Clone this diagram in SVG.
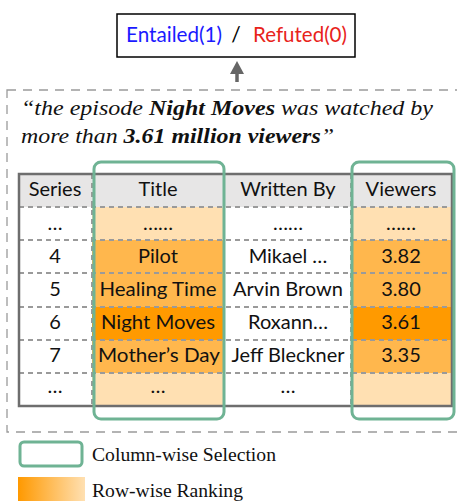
<svg xmlns="http://www.w3.org/2000/svg" width="457" height="501" viewBox="0 0 457 501">
<defs>
<style>
.sans{font-family:Lato,"Open Sans","Liberation Sans",sans-serif;font-size:20px;fill:#111;text-anchor:middle}
.serif{font-family:"Liberation Serif","DejaVu Serif",serif;fill:#111}
.dash{stroke:#9a9a9a;stroke-width:2;stroke-dasharray:5,4;fill:none}
.sel{fill:none;stroke:#6fb394;stroke-width:3}
.light{fill:#ffe0b2}
.mid{fill:#ffb74d}
.dark{fill:#ff9a00}
</style>
<linearGradient id="grad" x1="0" y1="0" x2="1" y2="0">
<stop offset="0" stop-color="#ff9900"/>
<stop offset="1" stop-color="#ffe0b2"/>
</linearGradient>
</defs>
<rect width="457" height="501" fill="#fff"/>

<g id="output">
<rect x="117" y="14" width="238" height="43" fill="#fff" stroke="#000" stroke-width="1.5"/>
<text x="126" y="42" style="font-family:Lato,'Open Sans','Liberation Sans',sans-serif;font-size:21px" fill="#1a1aff" textLength="96" lengthAdjust="spacingAndGlyphs">Entailed(1)</text>
<text x="236" y="42" style="font-family:Lato,'Open Sans','Liberation Sans',sans-serif;font-size:21px" fill="#000" text-anchor="middle">/</text>
<text x="253" y="42" style="font-family:Lato,'Open Sans','Liberation Sans',sans-serif;font-size:21px" fill="#e8231b" textLength="94" lengthAdjust="spacingAndGlyphs">Refuted(0)</text>
</g>

<g id="connectors">
<line x1="237" y1="82" x2="237" y2="72" stroke="#666" stroke-width="3.5"/>
<path d="M230,74 L244,74 L237,61 Z" fill="#666"/>
</g>

<g id="frame">
<rect x="7" y="90" width="470" height="342" fill="none" stroke="#9a9a9a" stroke-width="1.3" stroke-dasharray="9,7"/>
</g>

<g id="claim">
<text class="serif" font-size="22" font-style="italic" x="21" y="115" textLength="412" lengthAdjust="spacingAndGlyphs">“the episode <tspan font-weight="bold">Night Moves</tspan> was watched by</text>
<text class="serif" font-size="22" font-style="italic" x="21" y="143" textLength="313" lengthAdjust="spacingAndGlyphs">more than <tspan font-weight="bold">3.61 million viewers</tspan>”</text>
</g>

<g id="table">
<rect x="19" y="174" width="433" height="33" fill="#e7e6e6"/>
<rect x="19" y="207" width="433" height="199" fill="#fff"/>
<rect class="light" x="92" y="207" width="132" height="33"/>
<rect class="mid" x="92" y="240" width="132" height="67"/>
<rect class="dark" x="92" y="307" width="132" height="33"/>
<rect class="mid" x="92" y="340" width="132" height="33"/>
<rect class="light" x="92" y="373" width="132" height="33"/>
<rect class="light" x="351" y="207" width="101" height="33"/>
<rect class="mid" x="351" y="240" width="101" height="67"/>
<rect class="dark" x="351" y="307" width="101" height="33"/>
<rect class="mid" x="351" y="340" width="101" height="33"/>
<rect class="light" x="351" y="373" width="101" height="33"/>
<path class="dash" d="M19,207 H452 M19,240 H452 M19,273 H452 M19,307 H452 M19,340 H452 M19,373 H452 M92,174 V406 M224,174 V406 M351,174 V406"/>
<rect x="19" y="174" width="433" height="232" fill="none" stroke="#6e6e6e" stroke-width="2.5"/>

<text class="sans" x="55" y="196">Series</text>
<text class="sans" x="158" y="196">Title</text>
<text class="sans" x="288" y="196">Written By</text>
<text class="sans" x="401" y="196">Viewers</text>

<text class="sans" x="55" y="230">…</text>
<text class="sans" x="158" y="230">……</text>
<text class="sans" x="288" y="230">……</text>
<text class="sans" x="401" y="230">……</text>

<text class="sans" x="55" y="263">4</text>
<text class="sans" x="158" y="263">Pilot</text>
<text class="sans" x="288" y="263">Mikael …</text>
<text class="sans" x="401" y="263">3.82</text>

<text class="sans" x="55" y="296">5</text>
<text class="sans" x="158" y="296" textLength="117" lengthAdjust="spacingAndGlyphs">Healing Time</text>
<text class="sans" x="288" y="296" textLength="110" lengthAdjust="spacingAndGlyphs">Arvin Brown</text>
<text class="sans" x="401" y="296">3.80</text>

<text class="sans" x="55" y="329">6</text>
<text class="sans" x="158" y="329" textLength="114" lengthAdjust="spacingAndGlyphs">Night Moves</text>
<text class="sans" x="288" y="329">Roxann…</text>
<text class="sans" x="401" y="329">3.61</text>

<text class="sans" x="55" y="362">7</text>
<text class="sans" x="159" y="362" textLength="122" lengthAdjust="spacingAndGlyphs">Mother’s Day</text>
<text class="sans" x="288" y="362" textLength="113" lengthAdjust="spacingAndGlyphs">Jeff Bleckner</text>
<text class="sans" x="401" y="362">3.35</text>

<text class="sans" x="55" y="393">…</text>
<text class="sans" x="158" y="393">…</text>
<text class="sans" x="288" y="393">…</text>
</g>

<g id="selection">
<rect class="sel" x="94" y="162" width="130" height="257" rx="7"/>
<rect class="sel" x="352" y="162" width="102" height="257" rx="7"/>
</g>

<g id="legend">
<rect class="sel" x="20" y="442" width="62" height="24" rx="4"/>
<text class="serif" font-size="19.5" x="92" y="461" textLength="184" lengthAdjust="spacingAndGlyphs">Column-wise Selection</text>
<rect x="18" y="477" width="67" height="30" fill="url(#grad)"/>
<text class="serif" font-size="19.5" x="92" y="497" textLength="151" lengthAdjust="spacingAndGlyphs">Row-wise Ranking</text>
</g>
</svg>
